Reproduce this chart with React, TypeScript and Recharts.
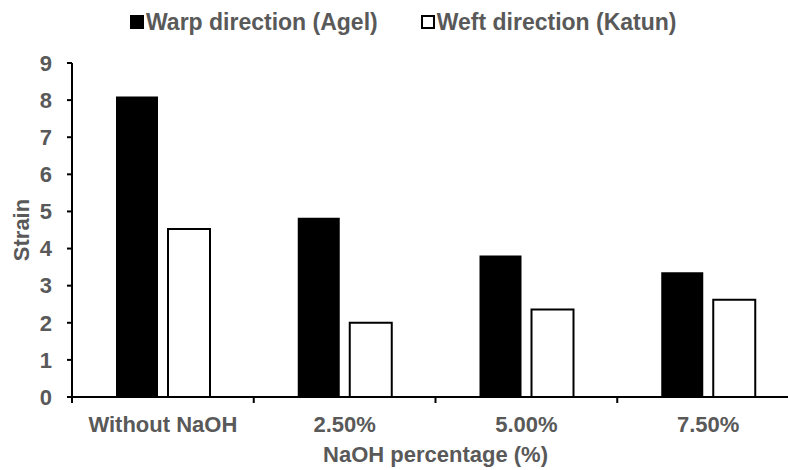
import { BarChart, Bar, XAxis, YAxis, Legend } from 'recharts';

const categories = ['Without NaOH', '2.50%', '5.00%', '7.50%'];
const warpValues = [8.1, 4.83, 3.81, 3.36];
const weftValues = [4.53, 2.0, 2.36, 2.62];
const yTicks = [0, 1, 2, 3, 4, 5, 6, 7, 8, 9];

const FONT = '"Liberation Sans", Arial, sans-serif';
const TEXT = '#595959';
const X_TICK_SIZE = 6;
const X_TICK_MARGIN = 13;

const data = categories.map((name, i) => ({
  name,
  warp: warpValues[i],
  weft: weftValues[i],
}));

const legendItems = [
  { label: 'Warp direction (Agel)', fill: '#000' },
  { label: 'Weft direction (Katun)', fill: '#fff' },
];

// category label + a small tick mark at the left edge of the band (like Excel)
function CategoryTick(props: any) {
  const { x, y, payload } = props;
  const axisY = y - X_TICK_SIZE - X_TICK_MARGIN;
  const edgeX = x - (payload.offset || 0);
  return (
    <g>
      <line x1={edgeX} y1={axisY} x2={edgeX} y2={axisY + X_TICK_SIZE} stroke="#000" strokeWidth={2} />
      <text
        x={x}
        y={y}
        dy="0.71em"
        textAnchor="middle"
        fill={TEXT}
        fontSize={22}
        fontWeight="bold"
        fontFamily={FONT}
      >
        {payload.value}
      </text>
    </g>
  );
}

export default function App() {
  return (
    <div style={{ position: 'absolute', left: 0, top: 0, width: 788, height: 470, overflow: 'hidden', background: '#fff' }}>
      <BarChart
        width={810}
        height={470}
        data={data}
        margin={{ top: 63, right: 11, bottom: 0, left: 0 }}
        barSize={42}
        barGap={10}
      >
        <XAxis
          dataKey="name"
          height={73}
          interval={0}
          axisLine={{ stroke: '#000', strokeWidth: 2 }}
          tickLine={false}
          tickSize={X_TICK_SIZE}
          tickMargin={X_TICK_MARGIN}
          tick={<CategoryTick />}
          label={{
            value: 'NaOH percentage (%)',
            position: 'insideBottom',
            offset: 8,
            fill: TEXT,
            fontSize: 22,
            fontWeight: 'bold',
            fontFamily: FONT,
          }}
        />
        <YAxis
          width={72}
          domain={[0, 9]}
          ticks={yTicks}
          interval={0}
          axisLine={{ stroke: '#000', strokeWidth: 2 }}
          tickLine={{ stroke: '#000', strokeWidth: 2 }}
          tickSize={5}
          tickMargin={15}
          tick={{ fill: TEXT, fontSize: 22, fontWeight: 'bold', fontFamily: FONT }}
          label={{
            value: 'Strain',
            angle: -90,
            position: 'insideLeft',
            offset: 21,
            fill: TEXT,
            fontSize: 22,
            fontWeight: 'bold',
            fontFamily: FONT,
            style: { textAnchor: 'middle' },
          }}
        />
        <Legend
          verticalAlign="middle"
          align="center"
          layout="horizontal"
          wrapperStyle={{ top: 12, left: 130, width: 'auto', height: 20 }}
          content={() => (
            <div style={{ display: 'flex', alignItems: 'center', gap: 43, height: 20 }}>
              {legendItems.map((item) => (
                <span key={item.label} style={{ display: 'inline-flex', alignItems: 'center', gap: 2 }}>
                  <span
                    style={{
                      display: 'inline-block',
                      width: item.fill === '#000' ? 14 : 10,
                      height: item.fill === '#000' ? 14 : 10,
                      background: item.fill,
                      border: item.fill === '#000' ? 'none' : '2px solid #000',
                    }}
                  />
                  <span style={{ color: TEXT, fontSize: 23, fontWeight: 'bold', fontFamily: FONT, lineHeight: '20px', whiteSpace: 'nowrap' }}>
                    {item.label}
                  </span>
                </span>
              ))}
            </div>
          )}
        />
        <Bar dataKey="warp" fill="#000" isAnimationActive={false} />
        <Bar dataKey="weft" fill="#fff" stroke="#000" strokeWidth={2} isAnimationActive={false} />
      </BarChart>
    </div>
  );
}
